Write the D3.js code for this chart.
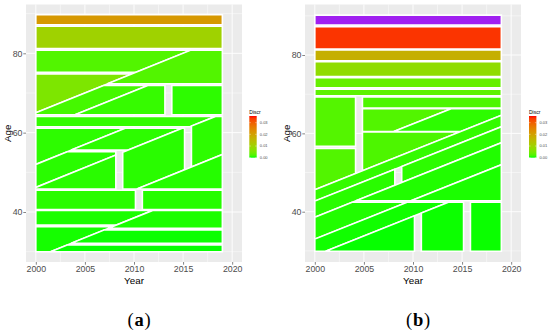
<!DOCTYPE html>
<html>
<head>
<meta charset="utf-8">
<script src="https://cdn.jsdelivr.net/npm/d3@7"></script>
<style>
  body { margin: 0; background: #fff; }
  svg { display: block; }
  text { font-family: "Liberation Sans", Arial, sans-serif; }
</style>
</head>
<body>
<svg id="chart" width="550" height="332"></svg>
<script>
// Each cell of the Lexis partition: yr = period range, age = age range,
// coh = bounds on cohort (year - age), v = Discr value (null = NA, drawn purple)
const cellsA = [
  {age: [87.2, 89.7], v: 0.0214},
  {age: [81.2, 86.8], v: 0.0100},
  {age: [75.2, 80.8], coh: [-Infinity, 1935], v: 0.0023},
  {age: [64.5, 74.8], coh: [-Infinity, 1935], v: 0.0057},
  {age: [72.3, 80.8], coh: [1935, Infinity], v: 0.0023},
  {age: [64.5, 71.9], coh: [1935, 1939.5], v: 0.0016},
  {yr: [2000, 2013.15], age: [64.5, 71.9], coh: [1939.5, Infinity], v: 0.0010},
  {yr: [2013.85, 2019], age: [64.5, 71.9], v: 0.0007},
  {age: [61.5, 64.1], coh: [-Infinity, 1954.2], v: 0.0009},
  {yr: [2015.85, 2019], age: [45.8, 64.1], coh: [1954.2, 1964.5], v: 0.0007},
  {age: [45.8, 61.1], coh: [-Infinity, 1948], v: 0.0007},
  {age: [55.6, 61.1], coh: [1948, 1953.8], v: 0.0007},
  {yr: [2008.85, 2015.15], age: [45.8, 61.1], coh: [1953.8, 1964.5], v: 0.0006},
  {yr: [2000, 2008.15], age: [45.8, 55.2], coh: [1948, 1953.8], v: 0.0006},
  {age: [45.8, 61.1], coh: [1964.5, Infinity], v: 0.0005},
  {yr: [2000, 2008.15], age: [45.8, 55.2], coh: [1953.8, Infinity], v: 0.0006},
  {yr: [2000, 2010.15], age: [40.6, 45.5], v: 0.0006},
  {yr: [2010.85, 2019], age: [40.6, 45.5], v: 0.0005},
  {age: [36.7, 40.4], coh: [-Infinity, 1971.5], v: 0.0003},
  {age: [35.9, 40.4], coh: [1971.5, Infinity], v: 0.0003},
  {age: [30.0, 36.3], coh: [-Infinity, 1971.5], v: 0.0002},
  {age: [32.1, 35.5], coh: [1971.5, Infinity], v: 0.0001},
  {age: [30.0, 31.7], coh: [1971.5, Infinity], v: 0.00005}
];

const cellsB = [
  {age: [87.65, 90.2], v: null},
  {age: [81.52, 87.25], v: 0.0339},
  {age: [78.52, 81.28], v: 0.0171},
  {age: [74.52, 78.28], v: 0.0079},
  {age: [71.62, 74.23], v: 0.0036},
  {age: [69.62, 71.25], v: 0.0030},
  {yr: [2000, 2004.15], age: [56.72, 69.28], v: 0.0024},
  {yr: [2000, 2004.15], age: [29.9, 56.18], coh: [-Infinity, 1954.4], v: 0.0023},
  {yr: [2004.85, 2019], age: [66.47, 69.28], v: 0.0020},
  {yr: [2004.85, 2019], age: [60.45, 66.28], coh: [-Infinity, 1947.6], v: 0.0023},
  {yr: [2004.85, 2019], age: [60.45, 66.28], coh: [1947.6, 1954.4], v: 0.0007},
  {yr: [2004.85, 2019], age: [29.9, 60.35], coh: [-Infinity, 1954.4], v: 0.0020},
  {age: [29.9, 66.28], coh: [1954.4, 1957.3], v: 0.0009},
  {yr: [2000, 2008.15], age: [29.9, 66.28], coh: [1957.3, 1961.4], v: 0.0006},
  {yr: [2008.85, 2019], age: [29.9, 66.28], coh: [1957.3, 1961.4], v: 0.0007},
  {age: [42.8, 66.28], coh: [1961.4, 1967], v: 0.0004},
  {age: [29.9, 42.4], coh: [1961.4, 1967], v: 0.0004},
  {age: [42.8, 66.28], coh: [1967, Infinity], v: 0.0003},
  {age: [29.9, 42.4], coh: [1967, 1971.2], v: 0.00015},
  {yr: [2000, 2010.15], age: [29.9, 42.4], coh: [1971.2, Infinity], v: 0.00005},
  {yr: [2010.85, 2015.15], age: [29.9, 42.4], coh: [1971.2, Infinity], v: 0.0001},
  {yr: [2015.85, 2019], age: [29.9, 42.4], v: 0.00008}
];

const yearTicks = [2000, 2005, 2010, 2015, 2020];
const yearMinor = [2002.5, 2007.5, 2012.5, 2017.5];
const ageTicks = [40, 60, 80];
const ageMinor = [30, 50, 70, 90];
const legendTicks = [0, 0.01, 0.02, 0.03];
const discrMax = 0.0357;

const panels = [
  {key: "a", cells: cellsA, left: 26, right: 242, ageDomain: [27.4, 92.3], legendX: 249.3, labelX: 139.5, ageTitleX: 10.8},
  {key: "b", cells: cellsB, left: 305, right: 521, ageDomain: [27.16, 92.9], legendX: 529, labelX: 418.5, ageTitleX: 289.8}
];
const panelTop = 4.5, panelBottom = 262;

const color = d3.scaleLinear()
  .domain([0, discrMax])
  .range(["#00FF00", "#FF0000"])
  .interpolate(d3.interpolateLab);

// keep the part of poly where f(p) >= 0
function clip(poly, f) {
  const out = [];
  for (let i = 0; i < poly.length; i++) {
    const p = poly[i], q = poly[(i + 1) % poly.length];
    const fp = f(p), fq = f(q);
    if (fp >= 0) out.push(p);
    if ((fp >= 0) !== (fq >= 0)) {
      const t = fp / (fp - fq);
      out.push([p[0] + t * (q[0] - p[0]), p[1] + t * (q[1] - p[1])]);
    }
  }
  return out;
}

function cellPolygon(c) {
  const yr = c.yr || [2000, 2019];
  const coh = c.coh || [-Infinity, Infinity];
  let poly = [[yr[0], c.age[0]], [yr[1], c.age[0]], [yr[1], c.age[1]], [yr[0], c.age[1]]];
  if (isFinite(coh[0])) poly = clip(poly, p => (p[0] - p[1]) - coh[0]);
  if (isFinite(coh[1])) poly = clip(poly, p => coh[1] - (p[0] - p[1]));
  return poly;
}

const svg = d3.select("#chart");
const defs = svg.append("defs");

const grad = defs.append("linearGradient")
  .attr("id", "discrGrad")
  .attr("x1", 0).attr("y1", 1).attr("x2", 0).attr("y2", 0);
d3.range(0, 1.0001, 0.05).forEach(t => {
  grad.append("stop").attr("offset", t).attr("stop-color", color(t * discrMax));
});

panels.forEach(pn => {
  const x = d3.scaleLinear().domain([1999, 2021]).range([pn.left, pn.right]);
  const y = d3.scaleLinear().domain(pn.ageDomain).range([panelBottom, panelTop]);
  const g = svg.append("g").attr("class", "panel_" + pn.key);

  g.append("rect")
    .attr("x", pn.left).attr("y", panelTop)
    .attr("width", pn.right - pn.left).attr("height", panelBottom - panelTop)
    .attr("fill", "#EBEBEB");

  // grid
  g.selectAll(".vminor").data(yearMinor).join("line")
    .attr("x1", d => x(d)).attr("x2", d => x(d)).attr("y1", panelTop).attr("y2", panelBottom)
    .attr("stroke", "#fff").attr("stroke-width", 0.45);
  g.selectAll(".hminor").data(ageMinor.filter(d => y(d) > panelTop && y(d) < panelBottom)).join("line")
    .attr("x1", pn.left).attr("x2", pn.right).attr("y1", d => y(d)).attr("y2", d => y(d))
    .attr("stroke", "#fff").attr("stroke-width", 0.45);
  g.selectAll(".vmajor").data(yearTicks).join("line")
    .attr("x1", d => x(d)).attr("x2", d => x(d)).attr("y1", panelTop).attr("y2", panelBottom)
    .attr("stroke", "#fff").attr("stroke-width", 0.9);
  g.selectAll(".hmajor").data(ageTicks).join("line")
    .attr("x1", pn.left).attr("x2", pn.right).attr("y1", d => y(d)).attr("y2", d => y(d))
    .attr("stroke", "#fff").attr("stroke-width", 0.9);

  // cells
  const line = d3.line().x(p => x(p[0])).y(p => y(p[1]));
  g.selectAll(".cell").data(pn.cells).join("path")
    .attr("class", "cell")
    .attr("d", c => line(cellPolygon(c)) + "Z")
    .attr("fill", c => c.v == null ? "#A020F0" : color(c.v))
    .attr("stroke", "#fff")
    .attr("stroke-width", 1.6)
    .attr("stroke-linejoin", "miter");

  // axes
  const xAxis = g.append("g")
    .attr("transform", `translate(0,${panelBottom})`)
    .call(d3.axisBottom(x).tickValues(yearTicks).tickFormat(d3.format("d")).tickSize(2.7).tickPadding(1.5));
  const yAxis = g.append("g")
    .attr("transform", `translate(${pn.left},0)`)
    .call(d3.axisLeft(y).tickValues(ageTicks).tickSize(2.7).tickPadding(0.8));
  [xAxis, yAxis].forEach(a => {
    a.select(".domain").remove();
    a.selectAll(".tick line").attr("stroke", "#333").attr("stroke-width", 0.6);
    a.selectAll(".tick text")
      .attr("fill", "#4D4D4D")
      .style("font-size", "8.8px")
      .style("font-family", "'Liberation Sans', Arial, sans-serif");
  });

  g.append("text")
    .attr("x", (pn.left + pn.right) / 2).attr("y", 283.5)
    .attr("text-anchor", "middle")
    .style("font-size", "9.8px")
    .text("Year");
  g.append("text")
    .attr("transform", `translate(${pn.ageTitleX},${(panelTop + panelBottom) / 2}) rotate(-90)`)
    .attr("text-anchor", "middle")
    .style("font-size", "9.8px")
    .text("Age");

  // legend
  const lg = g.append("g");
  const ly = d3.scaleLinear().domain([0, discrMax]).range([157.7, 116]);
  lg.append("text")
    .attr("x", pn.legendX).attr("y", 113.8)
    .style("font-size", "5px")
    .text("Discr");
  lg.append("rect")
    .attr("x", pn.legendX).attr("y", ly(discrMax))
    .attr("width", 7.4).attr("height", ly(0) - ly(discrMax))
    .attr("fill", "url(#discrGrad)");
  lg.selectAll(".lt1").data(legendTicks).join("line")
    .attr("x1", pn.legendX).attr("x2", pn.legendX + 1.5)
    .attr("y1", d => ly(d)).attr("y2", d => ly(d))
    .attr("stroke", "#fff").attr("stroke-width", 0.4);
  lg.selectAll(".lt2").data(legendTicks).join("line")
    .attr("x1", pn.legendX + 5.9).attr("x2", pn.legendX + 7.4)
    .attr("y1", d => ly(d)).attr("y2", d => ly(d))
    .attr("stroke", "#fff").attr("stroke-width", 0.4);
  lg.selectAll(".ll").data(legendTicks).join("text")
    .attr("x", pn.legendX + 10.5).attr("y", d => ly(d))
    .attr("dy", "0.35em")
    .attr("fill", "#4D4D4D")
    .style("font-size", "4px")
    .text(d => d3.format(".2f")(d));

  // sub-figure label
  const lab = g.append("text")
    .attr("x", pn.labelX).attr("y", 326)
    .attr("text-anchor", "middle")
    .style("font-family", "'Liberation Serif', 'Times New Roman', serif")
    .style("font-size", "18.5px")
    .style("letter-spacing", "0.8px");
  lab.append("tspan").text("(");
  lab.append("tspan").attr("font-weight", "bold").text(pn.key);
  lab.append("tspan").text(")");
});
</script>
</body>
</html>
